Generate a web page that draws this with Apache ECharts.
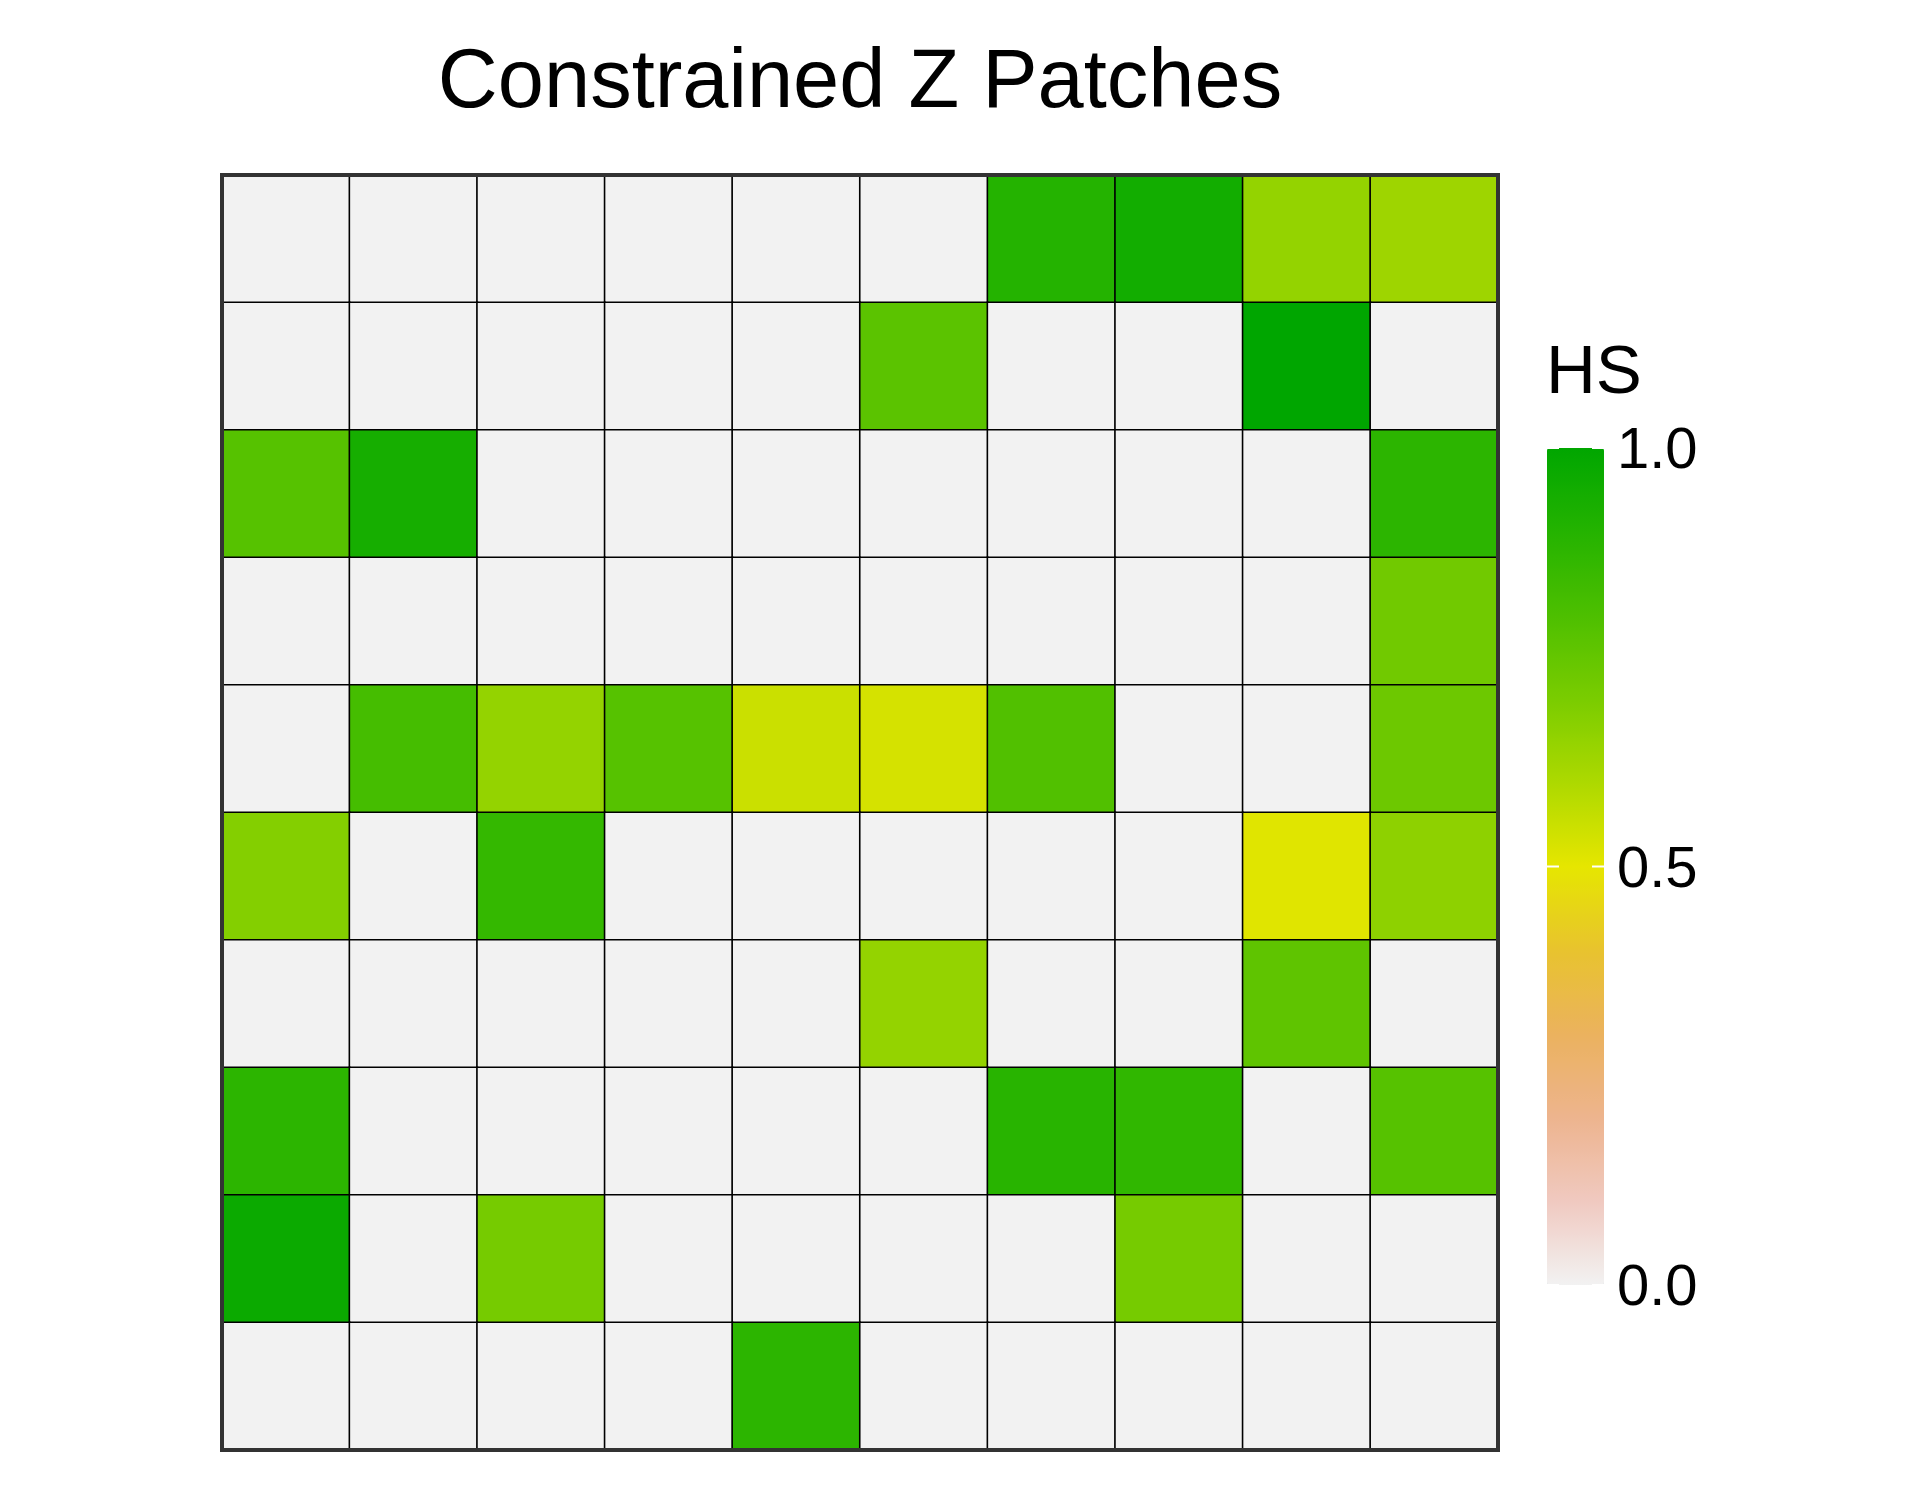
<!DOCTYPE html>
<html>
<head>
<meta charset="utf-8">
<title>Constrained Z Patches</title>
<script src="https://cdn.jsdelivr.net/npm/echarts@6/dist/echarts.min.js"></script>
<style>
  html, body { margin: 0; padding: 0; background: #fff; }
  #chart { width: 1920px; height: 1500px; }
</style>
</head>
<body>
<div id="chart"></div>
<script>
// 10 x 10 patch grid, rows listed top to bottom, 0 = no patch
const colCats = ['1', '2', '3', '4', '5', '6', '7', '8', '9', '10']
const rowCats = ['1', '2', '3', '4', '5', '6', '7', '8', '9', '10']

const row1 = [0, 0, 0, 0, 0, 0, 0.90, 0.95, 0.65, 0.63]
const row2 = [0, 0, 0, 0, 0, 0.77, 0, 0, 1.00, 0]
const row3 = [0.78, 0.94, 0, 0, 0, 0, 0, 0, 0, 0.88]
const row4 = [0, 0, 0, 0, 0, 0, 0, 0, 0, 0.72]
const row5 = [0, 0.82, 0.65, 0.78, 0.55, 0.53, 0.79, 0, 0, 0.73]
const row6 = [0.68, 0, 0.86, 0, 0, 0, 0, 0, 0.51, 0.66]
const row7 = [0, 0, 0, 0, 0, 0.65, 0, 0, 0.76, 0]
const row8 = [0.88, 0, 0, 0, 0, 0, 0.89, 0.87, 0, 0.78]
const row9 = [0.97, 0, 0.71, 0, 0, 0, 0, 0.71, 0, 0]
const row10 = [0, 0, 0, 0, 0.88, 0, 0, 0, 0, 0]

const legendTicks = [0, 0.5, 1]
const legendLabels = ['0.0', '0.5', '1.0']

// reversed terrain palette, low -> high
const palette = ['#F2F2F2', '#F0C9C0', '#EDB48E', '#EBB25E', '#E8C32E', '#E6E600',
    '#ADD900', '#7ACC00', '#4DBF00', '#24B300', '#00A600']

const rows = [row1, row2, row3, row4, row5, row6, row7, row8, row9, row10]
const data = []
rows.forEach((r, yi) => {
    r.forEach((v, xi) => {
        data.push([xi, yi, v])
    })
})

const font = "'Liberation Sans', Arial, Helvetica, sans-serif"

// colour bar geometry
const bar = { left: 1547, top: 448, width: 57, height: 837 }
const tickY = (v) => bar.top + (1 - v) * bar.height

const graphics = [
    {
        type: 'text',
        x: 1546,
        y: 374,
        style: { text: 'HS', font: '69px ' + font, fill: '#000', verticalAlign: 'middle', align: 'left' }
    }
]
legendTicks.forEach((t, i) => {
    const y = tickY(t)
    graphics.push({
        type: 'text',
        x: 1617,
        y: y + 4,
        style: { text: legendLabels[i], font: '58px ' + font, fill: '#000', verticalAlign: 'middle', align: 'left' },
        z: 10
    })
    // little white ticks on both sides of the bar
    graphics.push({
        type: 'line',
        shape: { x1: bar.left, y1: y, x2: bar.left + 12, y2: y },
        style: { stroke: '#fff', lineWidth: 2 },
        z: 10
    })
    graphics.push({
        type: 'line',
        shape: { x1: bar.left + bar.width - 12, y1: y, x2: bar.left + bar.width, y2: y },
        style: { stroke: '#fff', lineWidth: 2 },
        z: 10
    })
})

const myChart = echarts.init(document.getElementById('chart'))
const option = {
    backgroundColor: '#fff',
    animation: false,
    title: {
        text: 'Constrained Z Patches',
        left: 860,
        top: 43,
        padding: 0,
        textAlign: 'center',
        textStyle: {
            fontFamily: font,
            fontSize: 83,
            fontWeight: 'normal',
            color: '#000'
        }
    },
    grid: {
        left: 222,
        top: 175,
        width: 1276,
        height: 1275,
        show: true,
        z: 3,
        backgroundColor: 'transparent',
        borderColor: '#333',
        borderWidth: 4
    },
    xAxis: {
        type: 'category',
        data: colCats,
        axisLine: { show: false },
        axisTick: { show: false },
        axisLabel: { show: false },
        splitLine: { show: false }
    },
    yAxis: {
        type: 'category',
        data: rowCats,
        inverse: true,
        axisLine: { show: false },
        axisTick: { show: false },
        axisLabel: { show: false },
        splitLine: { show: false }
    },
    visualMap: {
        type: 'continuous',
        min: 0,
        max: 1,
        calculable: false,
        hoverLink: false,
        orient: 'vertical',
        left: bar.left,
        top: bar.top,
        padding: 0,
        itemWidth: bar.width,
        itemHeight: bar.height,
        text: null,
        showLabel: false,
        inRange: { color: palette }
    },
    graphic: graphics,
    series: [
        {
            type: 'heatmap',
            data: data,
            itemStyle: {
                borderColor: '#000',
                borderWidth: 1.6
            },
            emphasis: { disabled: true }
        }
    ]
}
myChart.setOption(option)
</script>
</body>
</html>
